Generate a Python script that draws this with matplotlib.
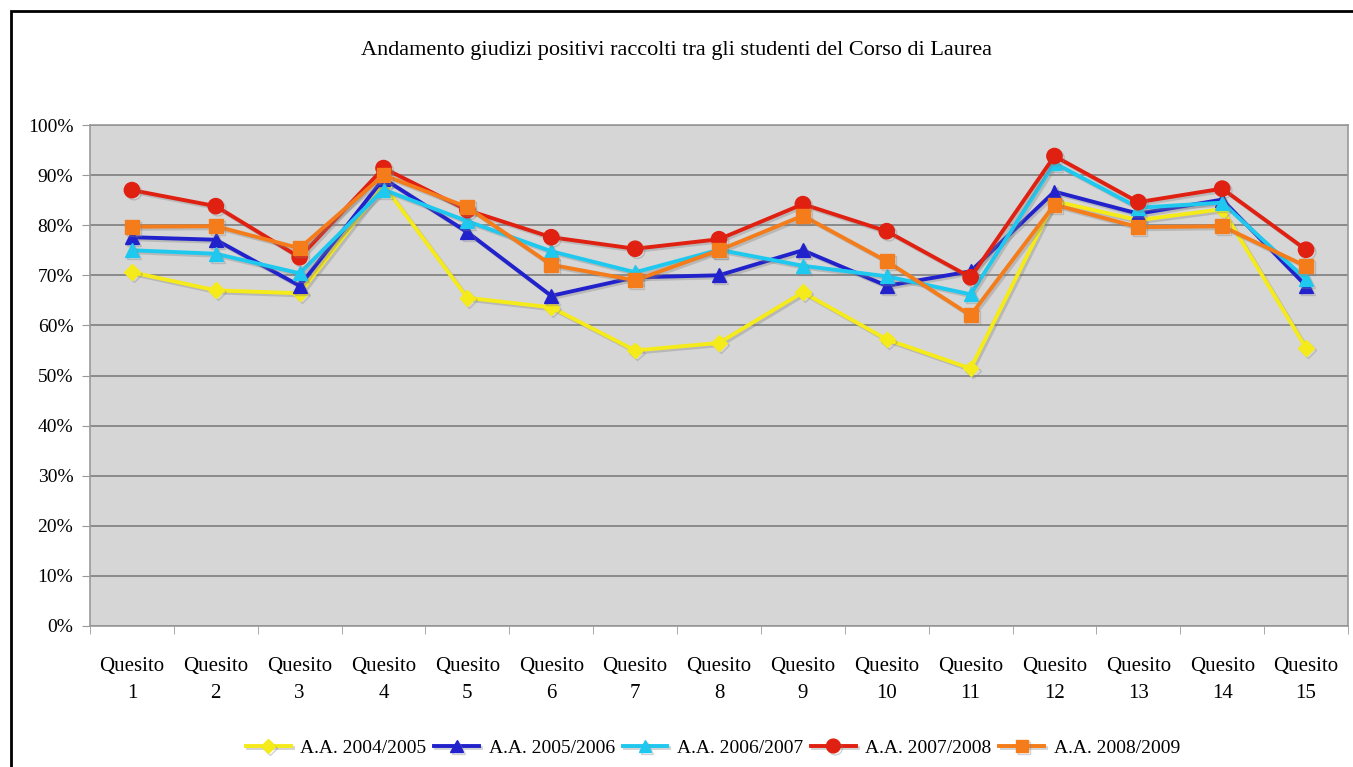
import matplotlib
matplotlib.use("Agg")
import matplotlib.pyplot as plt
import matplotlib.patheffects as pe
from matplotlib.patches import Rectangle
import numpy as np

categories = [f"Quesito\n{i}" for i in range(1, 16)]
series_names = ["A.A. 2004/2005", "A.A. 2005/2006", "A.A. 2006/2007",
                "A.A. 2007/2008", "A.A. 2008/2009"]
aa_2004_2005 = [70.6, 67.0, 66.4, 88.0, 65.5, 63.6, 55.0, 56.5, 66.6, 57.2, 51.4, 84.8, 81.0, 83.2, 55.5]
aa_2005_2006 = [77.6, 77.1, 67.9, 89.3, 78.6, 65.9, 69.6, 70.0, 75.0, 67.9, 70.8, 86.7, 82.3, 85.1, 67.9]
aa_2006_2007 = [75.0, 74.3, 70.4, 87.1, 80.8, 74.8, 70.6, 75.1, 71.9, 69.8, 66.2, 92.4, 83.5, 84.5, 69.2]
aa_2007_2008 = [87.0, 83.8, 73.6, 91.4, 83.0, 77.6, 75.3, 77.2, 84.2, 78.8, 69.6, 93.8, 84.6, 87.3, 75.1]
aa_2008_2009 = [79.7, 79.8, 75.4, 90.0, 83.6, 72.1, 69.0, 75.0, 81.9, 72.8, 62.0, 84.1, 79.6, 79.8, 71.8]
yticks = list(range(0, 101, 10))

series = [aa_2004_2005, aa_2005_2006, aa_2006_2007, aa_2007_2008, aa_2008_2009]
colors = ["#f5ea1a", "#2222cc", "#1fc8ee", "#e02010", "#f47c1a"]
markers = ["D", "^", "^", "o", "s"]
msizes = [8, 10, 10, 11, 10]

plt.rcParams['font.family'] = ['Liberation Serif', 'DejaVu Serif']

fig = plt.figure(figsize=(13.53, 7.67), dpi=100)
W, H = 1353, 767
fig.patches.append(Rectangle((11 / W, -0.1), 1.2, 1 - 11 / H + 0.1, transform=fig.transFigure,
                             fill=False, edgecolor="black", linewidth=2))

ax = fig.add_axes([90 / W, 1 - 626 / H, (1348 - 90) / W, (626 - 125) / H])
ax.set_facecolor("#d6d6d6")
x = np.arange(len(categories))

for vals, name, c, m, ms in zip(series, series_names, colors, markers, msizes):
    ax.plot(x, vals, color=c, marker=m, markersize=ms, linewidth=2.8, label=name,
            markeredgecolor=c, zorder=3,
            path_effects=[pe.SimpleLineShadow(offset=(1.5, -1.5), shadow_color="gray", alpha=0.35),
                          pe.Normal()])

ax.set_xlim(-0.5, len(categories) - 0.5)
ax.set_ylim(0, 100)
ax.set_yticks(yticks)
ax.set_yticklabels([f"{t}%" for t in yticks], fontsize=14)
ax.yaxis.grid(True, color="#8a8a8a", linewidth=1.4)
ax.set_axisbelow(True)
ax.set_xticks(x)
ax.set_xticklabels(categories, fontsize=15, linespacing=1.6)
ax.tick_params(axis="x", length=0, pad=22)
ax.set_xticks(np.arange(-0.5, len(categories), 1), minor=True)
ax.tick_params(axis="x", which="minor", length=6, color="#999999", direction="out")
ax.tick_params(axis="y", length=6, color="#999999", direction="out", pad=6)
for s in ax.spines.values():
    s.set_color("#999999")
    s.set_linewidth(1.2)

fig.text(0.5, 1 - 50 / H, "Andamento giudizi positivi raccolti tra gli studenti del Corso di Laurea",
         ha="center", va="center", fontsize=16)

fig.legend(loc="center", bbox_to_anchor=(713 / W, 1 - 748 / H), ncol=5, frameon=False,
           fontsize=14, handlelength=2.3, handletextpad=0.5, columnspacing=0.4,
           markerscale=0.9)

fig.savefig("out.png", dpi=100, facecolor="white")
